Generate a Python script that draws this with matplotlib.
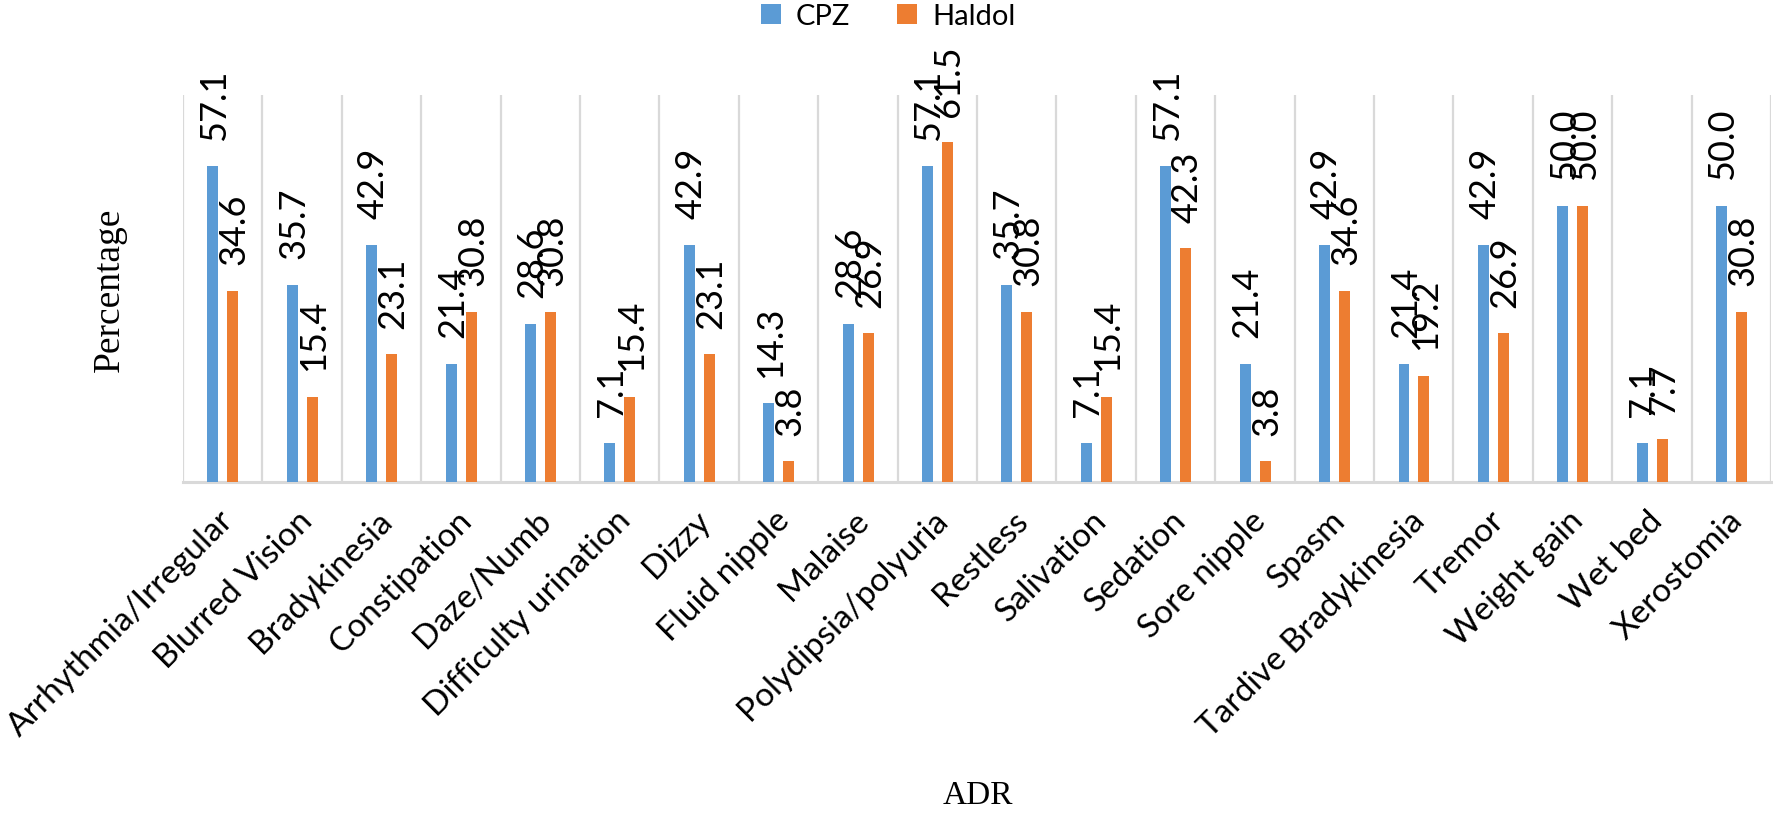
import numpy as np
import matplotlib
matplotlib.use("Agg")
import matplotlib.pyplot as plt
import matplotlib.transforms as mtransforms

categories = ["Arrhythmia/Irregular", "Blurred Vision", "Bradykinesia", "Constipation",
              "Daze/Numb", "Difficulty urination", "Dizzy", "Fluid nipple", "Malaise",
              "Polydipsia/polyuria", "Restless", "Salivation", "Sedation", "Sore nipple",
              "Spasm", "Tardive Bradykinesia", "Tremor", "Weight gain", "Wet bed", "Xerostomia"]
cpz = [57.1, 35.7, 42.9, 21.4, 28.6, 7.1, 42.9, 14.3, 28.6, 57.1,
       35.7, 7.1, 57.1, 21.4, 42.9, 21.4, 42.9, 50.0, 7.1, 50.0]
haldol = [34.6, 15.4, 23.1, 30.8, 30.8, 15.4, 23.1, 3.8, 26.9, 61.5,
          30.8, 15.4, 42.3, 3.8, 34.6, 19.2, 26.9, 50.0, 7.7, 30.8]

blue = "#5B9BD5"
orange = "#ED7D31"
grid_c = "#D9D9D9"
sans = ["Lato", "DejaVu Sans"]
serif = ["Liberation Serif", "DejaVu Serif"]

fig = plt.figure(figsize=(17.73, 8.2), dpi=100)
ax = fig.add_axes([0.1032, 0.4110, 0.8957, 0.4720])

x = np.arange(len(categories))
w = 0.1375
b1 = ax.bar(x - 0.123, cpz, w, color=blue, label="CPZ", zorder=3)
b2 = ax.bar(x + 0.128, haldol, w, color=orange, label="Haldol", zorder=3)

for bars, vals in ((b1, cpz), (b2, haldol)):
    for r, v in zip(bars, vals):
        ax.annotate(f"{v:.1f}", (r.get_x() + r.get_width() / 2, v),
                    xytext=(1, 19), textcoords="offset points",
                    rotation=90, ha="center", va="bottom",
                    fontsize=26, family=sans, color="black")

ax.set_xlim(-0.5, len(categories) - 0.5)
ax.set_ylim(0, 70)
ax.set_yticks([])
ax.set_xticks(x)
ax.set_xticklabels(categories, rotation=45, ha="right", rotation_mode="anchor",
                   va="center", fontsize=24, family=sans)
ax.tick_params(axis="x", length=0, pad=24)
offset = mtransforms.ScaledTranslation(6 / 100, 0, fig.dpi_scale_trans)
for lab in ax.get_xticklabels():
    lab.set_transform(lab.get_transform() + offset)

ax.set_xticks(np.arange(-0.5, len(categories)), minor=True)
ax.tick_params(axis="x", which="minor", length=0)
ax.grid(True, axis="x", which="minor", color=grid_c, linewidth=1.6, zorder=0)

for s in ("top", "left", "right"):
    ax.spines[s].set_visible(False)
ax.spines["bottom"].set_color(grid_c)
ax.spines["bottom"].set_linewidth(2.2)

fig.text(110 / 1773, 1 - 290 / 820, "Percentage", rotation=90, ha="center", va="center",
         fontsize=27, family=serif)
fig.text(978 / 1773, 1 - 796 / 820, "ADR", ha="center", va="center",
         fontsize=24, family=serif)

leg = fig.legend(handles=[b1, b2], labels=["CPZ", "Haldol"], loc="center",
                 bbox_to_anchor=(888 / 1773, 1 - 17 / 820), ncol=2, frameon=False,
                 prop={"family": sans, "size": 21}, handlelength=0.7, handleheight=0.7,
                 handletextpad=0.5, columnspacing=1.6, borderpad=0)

fig.savefig("out.png", dpi=100)
